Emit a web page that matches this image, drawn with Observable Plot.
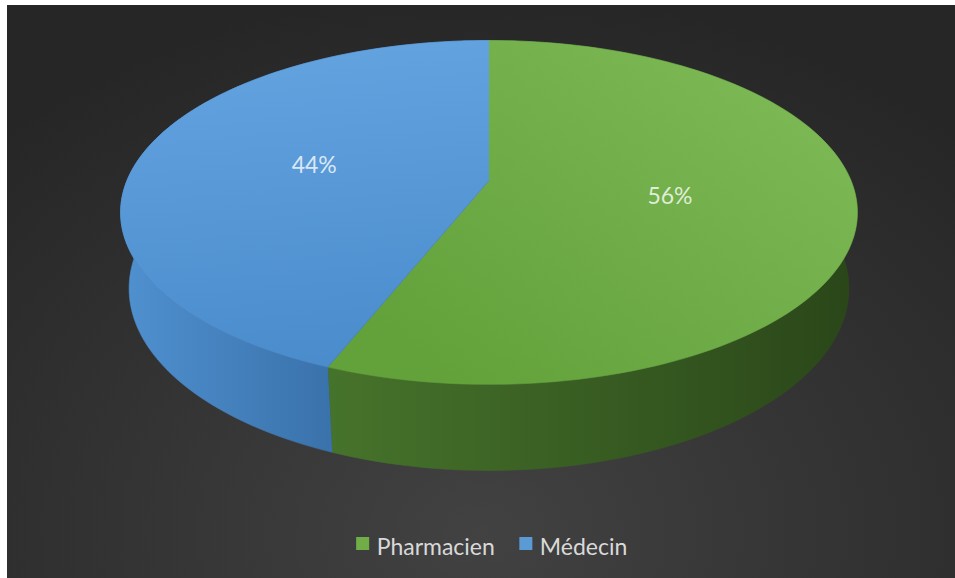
<!DOCTYPE html>
<html>
<head>
<meta charset="utf-8">
<script src="https://cdn.jsdelivr.net/npm/d3@7"></script>
<script src="https://cdn.jsdelivr.net/npm/@observablehq/plot@0.6"></script>
<style>
  html, body { margin: 0; padding: 0; background: #ffffff; }
  #wrap { position: relative; width: 955px; height: 578px; overflow: hidden; }
  #bg { position: absolute; left: 7px; top: 5px; width: 948px; height: 573px;
        background: radial-gradient(ellipse 75% 95% at 50% 92%, #424242 0%, #353535 45%, #262626 100%); }
  #chart { position: absolute; left: 0; top: 0; }
  #chart svg { background: transparent !important; }
</style>
</head>
<body>
<div id="wrap"><div id="bg"></div><div id="chart"></div></div>
<script>
// ---- data ----
const categories = ["Pharmacien", "Médecin"];
const values = [56, 44];
const labels = ["56%", "44%"];

// ---- styles ----
const palette = {
  "Pharmacien": {top: ["#7bb854", "#63a13b"], side: ["#46732b", "#2a4619"], swatch: "#70ad47"},
  "Médecin":    {top: ["#62a2df", "#4a8bcc"], side: ["#4f90cf", "#3a72ab"], swatch: "#5b9bd5"}
};

// ---- 3D perspective camera (pixel space of the page) ----
const cam = {cx: 488.5, cy: 180, a: 362, sinE: 0.4586, cosE: 0.8887, k: 0.209, h: 0.2385};
function project(theta, r, level) {
  const s = Math.sin(theta), c = Math.cos(theta);
  const dz = 1 + cam.k * (level * cam.h * cam.sinE + r * c * cam.cosE);
  return [cam.cx + cam.a * r * s / dz, cam.cy - cam.a * (r * c * cam.sinE - level * cam.h * cam.cosE) / dz];
}
function arc(t1, t2, level, n) {
  const pts = [];
  for (let i = 0; i <= n; i++) {
    const t = t1 + (t2 - t1) * i / n;
    pts.push(project(t, 1, level));
  }
  return pts;
}

const total = d3.sum(values);
let acc = 0;
const slices = categories.map((cat, i) => {
  const t1 = acc / total * 2 * Math.PI;
  acc += values[i];
  const t2 = acc / total * 2 * Math.PI;
  const n = Math.max(8, Math.round((t2 - t1) / (2 * Math.PI) * 240));
  const top = [project(0, 0, 0), ...arc(t1, t2, 0, n)].map(([x, y]) => ({x, y, cat}));
  const side = [...arc(t1, t2, 0, n), ...arc(t2, t1, 1, n)].map(([x, y]) => ({x, y, cat}));
  const [lx, ly] = project((t1 + t2) / 2, 0.5, 0);
  return {cat, top, side, label: {x: lx, y: ly, text: labels[i]}};
});
const shadowPts = [...arc(0, 2 * Math.PI, 1, 240)].map(([x, y]) => ({x: x + 1, y: y + 4}));
const shadowPts2 = [...arc(0, 2 * Math.PI, 0, 240)].map(([x, y]) => ({x: x + 1, y: y + 4}));

// ---- legend layout ----
const legendFont = "23px Lato";
const ctx = document.createElement("canvas").getContext("2d");
ctx.font = legendFont;
const sw = 13, swGap = 7, itemGap = 25;
const widths = categories.map(c => sw + swGap + ctx.measureText(c).width);
const legendW = d3.sum(widths) + itemGap * (categories.length - 1);
let lx0 = 491.5 - legendW / 2;
const legendBaseline = 550;
const legendItems = categories.map((c, i) => {
  const item = {cat: c, x: lx0, tx: lx0 + sw + swGap};
  lx0 += widths[i] + itemGap;
  return item;
});

const marks = [];
marks.push(Plot.line(shadowPts, {x: "x", y: "y", fill: "#000", fillOpacity: 0.9, stroke: "none", ariaLabel: "shadow"}));
marks.push(Plot.line(shadowPts2, {x: "x", y: "y", fill: "#000", fillOpacity: 0.7, stroke: "none", ariaLabel: "shadow"}));
slices.forEach((s, i) => {
  marks.push(Plot.line(s.side, {x: "x", y: "y", fill: `url(#side${i})`, stroke: `url(#side${i})`, strokeWidth: 0.6}));
});
slices.forEach((s, i) => {
  marks.push(Plot.line(s.top, {x: "x", y: "y", fill: `url(#top${i})`, stroke: `url(#top${i})`, strokeWidth: 0.6}));
});
marks.push(Plot.text(slices.map(s => s.label), {
  x: "x", y: "y", text: "text", fill: "#ffffff", fillOpacity: 0.78,
  fontSize: 23, fontFamily: "Lato", textAnchor: "middle", lineAnchor: "middle"
}));
marks.push(Plot.rect(legendItems, {
  x1: "x", x2: d => d.x + sw, y1: legendBaseline - 13, y2: legendBaseline,
  fill: d => palette[d.cat].swatch
}));
marks.push(Plot.text(legendItems, {
  x: "tx", y: legendBaseline, text: "cat", fill: "#d9d9d9",
  fontSize: 23, fontFamily: "Lato", textAnchor: "start", lineAnchor: "bottom", dy: 4
}));

const svg = Plot.plot({
  width: 955, height: 578, margin: 0,
  x: {type: "identity", axis: null},
  y: {type: "identity", axis: null},
  color: {type: "identity"},
  style: {background: "transparent", overflow: "visible"},
  marks
});

// gradients & filter
const NS = "http://www.w3.org/2000/svg";
function el(name, attrs, parent) {
  const e = document.createElementNS(NS, name);
  for (const k in attrs) e.setAttribute(k, attrs[k]);
  if (parent) parent.appendChild(e);
  return e;
}
const defs = el("defs", {});
svg.insertBefore(defs, svg.firstChild);
const topGeom = [
  {x1: 720, y1: 60, x2: 470, y2: 390},
  {x1: 330, y1: 50, x2: 360, y2: 370}
];
const sideGeom = [
  {x1: 330, x2: 857},
  {x1: 125, x2: 330}
];
categories.forEach((c, i) => {
  const g1 = el("linearGradient", {id: `top${i}`, gradientUnits: "userSpaceOnUse",
    x1: topGeom[i].x1, y1: topGeom[i].y1, x2: topGeom[i].x2, y2: topGeom[i].y2}, defs);
  el("stop", {offset: "0", "stop-color": palette[c].top[0]}, g1);
  el("stop", {offset: "1", "stop-color": palette[c].top[1]}, g1);
  const g2 = el("linearGradient", {id: `side${i}`, gradientUnits: "userSpaceOnUse",
    x1: sideGeom[i].x1, y1: 0, x2: sideGeom[i].x2, y2: 0}, defs);
  el("stop", {offset: "0", "stop-color": palette[c].side[0]}, g2);
  el("stop", {offset: "1", "stop-color": palette[c].side[1]}, g2);
});
const f = el("filter", {id: "blur", x: "-20%", y: "-20%", width: "140%", height: "140%"}, defs);
el("feGaussianBlur", {stdDeviation: 3.5}, f);
svg.querySelectorAll('[aria-label="shadow"]').forEach(g => g.setAttribute("filter", "url(#blur)"));

document.getElementById("chart").appendChild(svg);
</script>
</body>
</html>
